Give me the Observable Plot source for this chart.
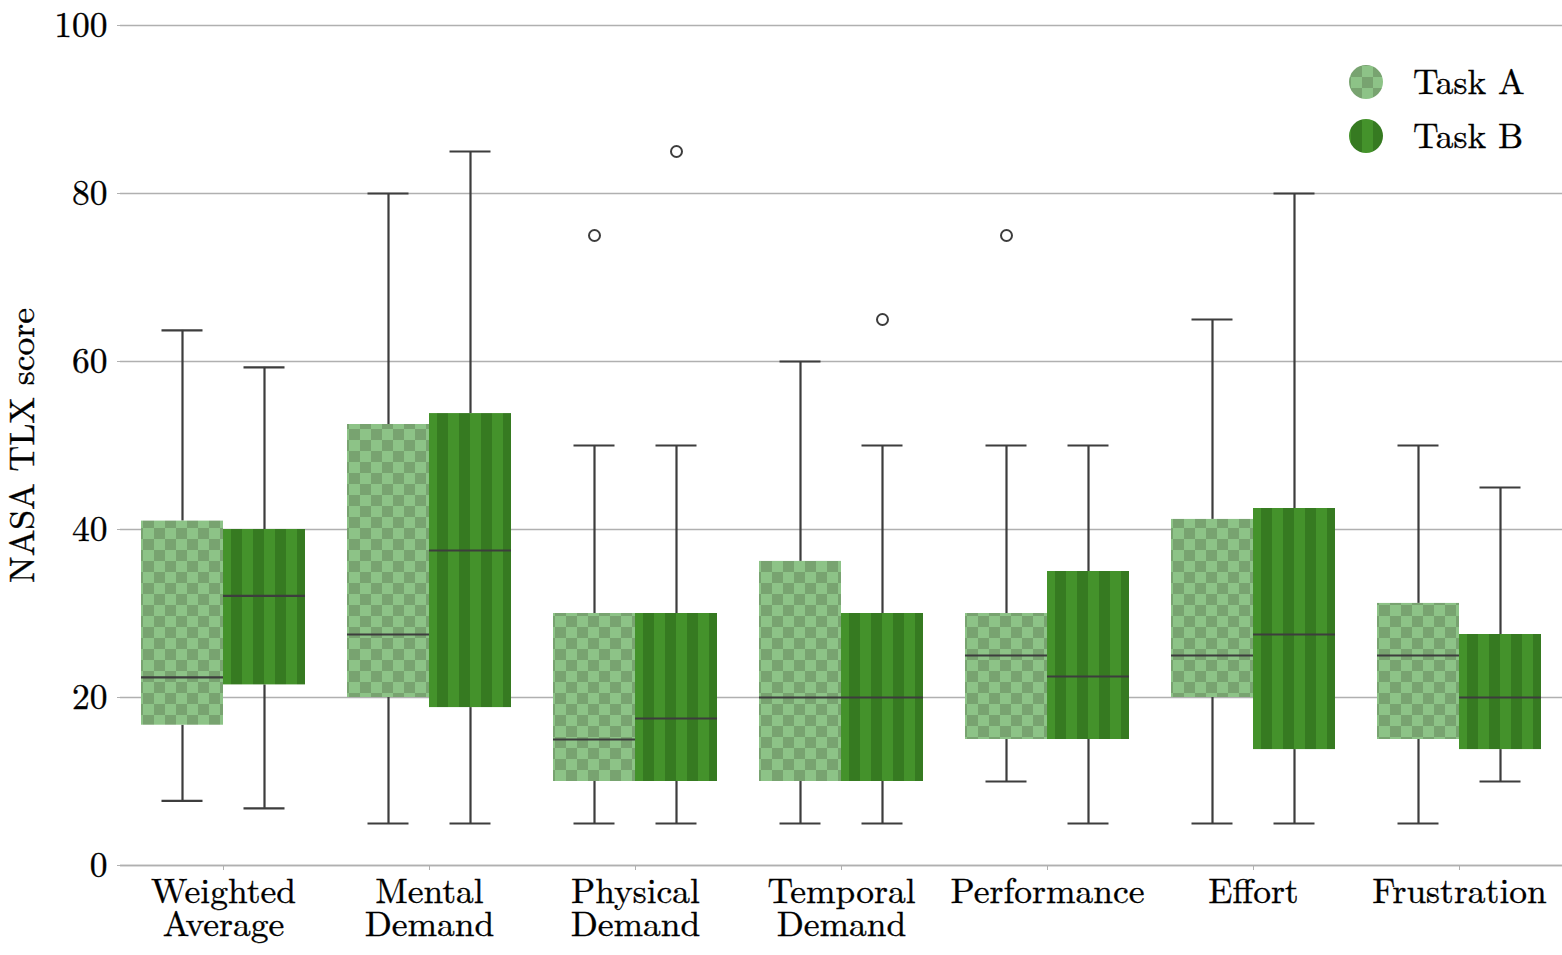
<!DOCTYPE html>
<html><head><meta charset="utf-8">
<script src="https://cdn.jsdelivr.net/npm/d3@7"></script>
<script src="https://cdn.jsdelivr.net/npm/@observablehq/plot@0.6"></script>
<style>
body{margin:0;background:#fff}
#wrap{position:relative;width:1562px;height:955px;font-family:'Latin Modern Roman','Liberation Serif',serif}
#wrap svg text{font-family:'Latin Modern Roman','Liberation Serif',serif !important;stroke:#000;stroke-width:0.35px}
#legend{position:absolute;left:1340px;top:55px}
</style>
</head><body><div id="wrap"></div>
<script>
const categories = ["Weighted Average","Mental Demand","Physical Demand","Temporal Demand","Performance","Effort","Frustration"];
const categoryLabels = ["Weighted\nAverage","Mental\nDemand","Physical\nDemand","Temporal\nDemand","Performance","Effort","Frustration"];
const tasks = ["Task A","Task B"];
const yTicks = [0,20,40,60,80,100];

// Task A five-number summaries (whisker low, Q1, median, Q3, whisker high)
const lowA  = [7.7, 5, 5, 5, 10, 5, 5];
const q1A   = [16.7, 20, 10, 10, 15, 20, 15];
const medA  = [22.4, 27.5, 15, 20, 25, 25, 25];
const q3A   = [41, 52.5, 30, 36.2, 30, 41.2, 31.2];
const highA = [63.7, 80, 50, 60, 50, 65, 50];
// Task B
const lowB  = [6.8, 5, 5, 5, 5, 5, 10];
const q1B   = [21.5, 18.8, 10, 10, 15, 13.8, 13.8];
const medB  = [32.1, 37.5, 17.5, 20, 22.5, 27.5, 20];
const q3B   = [40, 53.8, 30, 30, 35, 42.5, 27.5];
const highB = [59.3, 85, 50, 50, 50, 80, 45];
// Outliers
const outlierCats  = ["Physical Demand","Physical Demand","Temporal Demand","Performance"];
const outlierTasks = ["Task A","Task B","Task B","Task A"];
const outlierVals  = [75, 85, 65, 75];

const rows = categories.flatMap((c, i) => [
  {cat: c, task: "Task A", lo: lowA[i], q1: q1A[i], med: medA[i], q3: q3A[i], hi: highA[i]},
  {cat: c, task: "Task B", lo: lowB[i], q1: q1B[i], med: medB[i], q3: q3B[i], hi: highB[i]}
]);
const rowsA = rows.filter(d => d.task === "Task A");
const rowsB = rows.filter(d => d.task === "Task B");
const outliers = outlierVals.map((v, i) => ({cat: outlierCats[i], task: outlierTasks[i], v}));
const labelMap = Object.fromEntries(categories.map((c, i) => [c, categoryLabels[i]]));

const gridColor = "#b0b0b0";
const lineColor = "#3d3d3d";
const FONT = "'Latin Modern Roman', 'Liberation Serif', serif";

const plot = Plot.plot({
  width: 1562, height: 955,
  marginLeft: 120, marginRight: 0, marginTop: 25, marginBottom: 90,
  style: {fontFamily: FONT, fontSize: "35.5px", color: "#000", background: "#fff"},
  fx: {domain: categories, padding: 0, label: null},
  x: {domain: tasks, paddingInner: 0, paddingOuter: 0.256, axis: null},
  y: {domain: [0, 100], label: "NASA TLX score"},
  marks: [
    Plot.gridY(yTicks, {stroke: gridColor, strokeOpacity: 1, strokeWidth: 1.3}),
    Plot.ruleY([0], {stroke: gridColor, strokeWidth: 1.3}),
    Plot.axisY(yTicks, {tickSize: 3, tickPadding: 10, stroke: gridColor, label: "NASA TLX score",
      labelAnchor: "center", labelArrow: "none", labelOffset: 112}),
    Plot.axisFx({anchor: "bottom", tickSize: 5, tickPadding: 9, stroke: gridColor,
      tickFormat: d => labelMap[d], label: null, lineHeight: 0.93}),
    // whiskers
    Plot.ruleX(rows, {fx: "cat", x: "task", y1: "lo", y2: "q1", stroke: lineColor, strokeWidth: 2.2}),
    Plot.ruleX(rows, {fx: "cat", x: "task", y1: "q3", y2: "hi", stroke: lineColor, strokeWidth: 2.2}),
    Plot.tickY(rows, {fx: "cat", x: "task", y: "lo", stroke: lineColor, strokeWidth: 2.2, insetLeft: 20.5, insetRight: 20.5}),
    Plot.tickY(rows, {fx: "cat", x: "task", y: "hi", stroke: lineColor, strokeWidth: 2.2, insetLeft: 20.5, insetRight: 20.5}),
    // boxes
    Plot.barY(rowsA, {fx: "cat", x: "task", y1: "q1", y2: "q3", fill: "url(#chkP)"}),
    Plot.barY(rowsB, {fx: "cat", x: "task", y1: "q1", y2: "q3", fill: "url(#strP)"}),
    // medians
    Plot.tickY(rows, {fx: "cat", x: "task", y: "med", stroke: lineColor, strokeWidth: 2.2}),
    // outliers
    Plot.dot(outliers, {fx: "cat", x: "task", y: "v", r: 5.5, stroke: lineColor, strokeWidth: 2, fill: "none"})
  ]
});

function addPatterns(svgSel, suffix) {
  const defs = svgSel.insert("defs", ":first-child");
  const chk = defs.append("pattern").attr("id", "chk" + suffix)
    .attr("patternUnits", "userSpaceOnUse").attr("width", 22).attr("height", 22);
  chk.append("rect").attr("width", 22).attr("height", 22).attr("fill", "#8dc387");
  chk.append("rect").attr("width", 11).attr("height", 11).attr("fill", "#78a370");
  chk.append("rect").attr("x", 11).attr("y", 11).attr("width", 11).attr("height", 11).attr("fill", "#78a370");
  const str = defs.append("pattern").attr("id", "str" + suffix)
    .attr("patternUnits", "userSpaceOnUse").attr("width", 22).attr("height", 22);
  str.append("rect").attr("width", 22).attr("height", 22).attr("fill", "#44922b");
  str.append("rect").attr("x", 11).attr("width", 11).attr("height", 22).attr("fill", "#367a21");
}
addPatterns(d3.select(plot), "P");
d3.select(plot).selectAll("text").style("font-family", FONT);
const wrap = document.getElementById("wrap");
wrap.appendChild(plot);

// legend
const leg = d3.select(wrap).append("svg").attr("id", "legend").attr("width", 220).attr("height", 110);
addPatterns(leg, "L");
const legFills = ["url(#chkL)", "url(#strL)"];
tasks.forEach((t, i) => {
  leg.append("circle").attr("cx", 26).attr("cy", 27 + i * 54).attr("r", 17).attr("fill", legFills[i]);
  leg.append("text").attr("x", 73).attr("y", 39 + i * 54)
    .style("font-family", FONT).attr("font-size", 35.5).attr("fill", "#000").text(t);
});
</script>
</body></html>
